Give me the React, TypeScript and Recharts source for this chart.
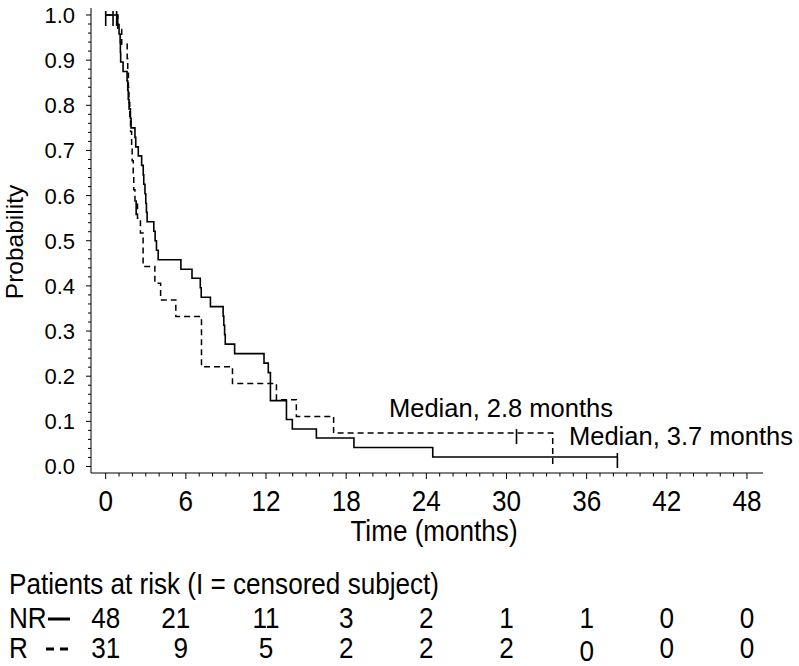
import React from 'react';
import { ComposedChart, Line, Scatter, XAxis, YAxis } from 'recharts';

const FONT = '"Liberation Sans", Arial, Helvetica, sans-serif';

// NR group (solid line): step times (months) and survival probability
const NR_TIME = [0, 0.9, 1.0, 1.08, 1.1, 1.12, 1.3, 1.6, 1.65, 1.69, 1.75, 1.85, 1.9, 2.19, 2.25, 2.44, 2.69, 2.81, 2.85, 2.94, 3.0, 3.05, 3.1, 3.6, 3.7, 3.8, 3.93, 5.63, 6.46, 7.08, 7.15, 7.84, 8.79, 8.84, 8.9, 8.95, 9.65, 11.85, 12.17, 12.33, 13.53, 13.97, 15.77, 18.58, 24.48, 38.3];
const NR_SURV = [1.0, 0.979, 0.958, 0.938, 0.917, 0.896, 0.875, 0.854, 0.833, 0.813, 0.792, 0.771, 0.75, 0.729, 0.708, 0.688, 0.667, 0.646, 0.625, 0.604, 0.583, 0.563, 0.542, 0.521, 0.5, 0.479, 0.458, 0.437, 0.417, 0.396, 0.375, 0.354, 0.333, 0.313, 0.292, 0.271, 0.25, 0.229, 0.208, 0.146, 0.104, 0.083, 0.063, 0.042, 0.021, 0.021];
const NR_CENSOR_TIME = [0, 0.55, 38.3];
const NR_CENSOR_SURV = [1.0, 1.0, 0.021];

// R group (dashed line)
const R_TIME = [0, 0.9, 1.2, 1.61, 1.65, 1.7, 1.74, 1.8, 1.86, 1.94, 1.98, 2.06, 2.1, 2.19, 2.38, 2.6, 2.8, 3.68, 4.11, 5.25, 7.17, 9.49, 12.78, 14.27, 17.06, 33.46];
const R_SURV = [1.0, 0.968, 0.935, 0.903, 0.871, 0.839, 0.806, 0.774, 0.742, 0.71, 0.677, 0.645, 0.613, 0.581, 0.55, 0.517, 0.443, 0.406, 0.369, 0.332, 0.221, 0.184, 0.148, 0.111, 0.074, 0];
const R_CENSOR_TIME = [0.82, 2.28, 30.75];
const R_CENSOR_SURV = [1.0, 0.581, 0.074];

// axis ticks and patients-at-risk table
const X_LABELS = [0, 6, 12, 18, 24, 30, 36, 42, 48];
const NR_AT_RISK = [48, 21, 11, 3, 2, 1, 1, 0, 0];
const R_AT_RISK = [31, 9, 5, 2, 2, 2, 0, 0, 0];
const Y_LABELS = [0, 0.1, 0.2, 0.3, 0.4, 0.5, 0.6, 0.7, 0.8, 0.9, 1.0];

const X_MINOR = Array.from({ length: 49 }, (_, i) => i);
const Y_MINOR = Array.from({ length: 51 }, (_, i) => Math.round(i * 2) / 100);

const toPoints = (t: number[], p: number[]) => t.map((v, i) => ({ t: v, p: p[i] }));

const nrData = toPoints(NR_TIME, NR_SURV);
const rData = toPoints(R_TIME, R_SURV);
const nrCensor = toPoints(NR_CENSOR_TIME, NR_CENSOR_SURV);
const rCensor = toPoints(R_CENSOR_TIME, R_CENSOR_SURV);

// the lower texts in the figure use a tall, narrow face
const NARROW = 0.87;
const NarrowText = ({ x, y, anchor = 'start', size = 30, children }: any) => (
  <text
    transform={`translate(${x},${y}) scale(${NARROW},1)`}
    textAnchor={anchor}
    fontSize={size}
    fontFamily={FONT}
    fill="#000"
  >
    {children}
  </text>
);

const CensorMark = (props: any) => {
  const { cx, cy } = props;
  return <line x1={cx} x2={cx} y1={cy - 4} y2={cy + 11} stroke="#000" strokeWidth={1.6} />;
};

const XTick = (props: any) => {
  const { x, y, payload } = props;
  const v = Math.round(payload.value);
  const idx = X_LABELS.indexOf(v);
  const major = idx >= 0;
  const nrShift = v === 6 ? -10 : 0;
  const rShift = v === 6 ? -5 : 0;
  return (
    <g>
      <line x1={x} x2={x} y1={y} y2={y + (major ? 6 : 3.5)} stroke="#000" strokeWidth={1} />
      {major && (
        <g>
          <NarrowText x={x} y={y + 38} anchor="middle">{v}</NarrowText>
          <NarrowText x={x + nrShift} y={y + 155} anchor="middle">{NR_AT_RISK[idx]}</NarrowText>
          <NarrowText x={x + rShift} y={y + 185 + (v === 36 ? 3 : 0)} anchor="middle">{R_AT_RISK[idx]}</NarrowText>
        </g>
      )}
    </g>
  );
};

const YTick = (props: any) => {
  const { x, y, payload } = props;
  const v = payload.value;
  const major = Y_LABELS.some((l) => Math.abs(l - v) < 1e-6);
  return (
    <g>
      <line x1={x - (major ? 5 : 3)} x2={x} y1={y} y2={y} stroke="#000" strokeWidth={1} />
      {major && (
        <text x={x - 16} y={y} dy="0.36em" textAnchor="end" fontSize={22} fontFamily={FONT} fill="#000">
          {v.toFixed(1)}
        </text>
      )}
    </g>
  );
};

export default function App() {
  return (
    <div style={{ position: 'absolute', left: 0, top: 0, width: 799, height: 666, background: '#fff' }}>
      <ComposedChart width={799} height={666} margin={{ top: 8, right: 36, bottom: 0, left: 0 }}>
        <XAxis
          type="number"
          dataKey="t"
          domain={[-1.1, 49.2]}
          allowDataOverflow
          ticks={X_MINOR}
          interval={0}
          tick={XTick}
          tickLine={false}
          tickSize={0}
          tickMargin={0}
          height={193}
          axisLine={{ stroke: '#000', strokeWidth: 1 }}
        />
        <YAxis
          type="number"
          domain={[-0.0144, 1.0155]}
          allowDataOverflow
          ticks={Y_MINOR}
          interval={0}
          tick={YTick}
          tickLine={false}
          tickSize={0}
          tickMargin={0}
          width={91}
          axisLine={{ stroke: '#000', strokeWidth: 1 }}
        />
        <Line data={nrData} dataKey="p" type="stepAfter" stroke="#000" strokeWidth={1.6} dot={false} activeDot={false} isAnimationActive={false} />
        <Line data={rData} dataKey="p" type="stepAfter" stroke="#000" strokeWidth={1.5} strokeDasharray="6 4" dot={false} activeDot={false} isAnimationActive={false} />
        <Scatter data={nrCensor} dataKey="p" shape={CensorMark} isAnimationActive={false} />
        <Scatter data={rCensor} dataKey="p" shape={CensorMark} isAnimationActive={false} />
      </ComposedChart>
      <svg width={799} height={666} style={{ position: 'absolute', left: 0, top: 0, pointerEvents: 'none' }} fontFamily={FONT} fill="#000">
        <text x={14} y={242} transform="rotate(-90 14 242)" textAnchor="middle" dy="0.35em" fontSize={24.5}>Probability</text>
        <text x={389} y={417} fontSize={25.5}>Median, 2.8 months</text>
        <text x={569} y={445} fontSize={25.5}>Median, 3.7 months</text>
        <NarrowText x={434} y={541} anchor="middle">Time (months)</NarrowText>
        <NarrowText x={9} y={594}>Patients at risk (I = censored subject)</NarrowText>
        <NarrowText x={9} y={628}>NR</NarrowText>
        <line x1={48} x2={70} y1={619} y2={619} stroke="#000" strokeWidth={3} />
        <NarrowText x={9} y={658}>R</NarrowText>
        <line x1={46} x2={70} y1={649} y2={649} stroke="#000" strokeWidth={3} strokeDasharray="8 6" />
      </svg>
    </div>
  );
}
